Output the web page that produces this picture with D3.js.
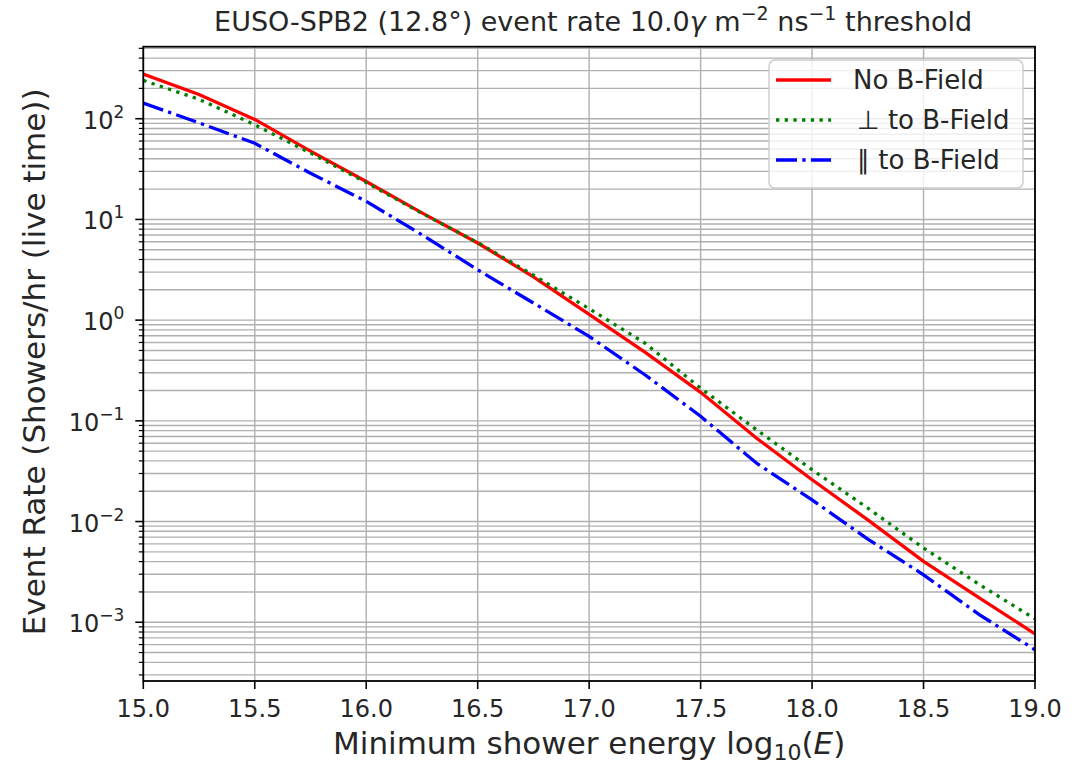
<!DOCTYPE html>
<html>
<head>
<meta charset="utf-8">
<script src="https://cdn.jsdelivr.net/npm/d3@7"></script>
<style>
  body { margin: 0; background: #fff; }
  svg { font-family: "DejaVu Sans", sans-serif; }
</style>
</head>
<body>
<svg id="chart" width="1081" height="767"></svg>
<script>
// data (log10 E, showers/hr)
const energies = [15.0, 15.25, 15.5, 15.75, 16.0, 16.25, 16.5, 16.75, 17.0, 17.25, 17.5, 17.75, 18.0, 18.25, 18.5, 18.75, 19.0]
const rateNoField = [278, 174, 98.5, 47.7, 23.8, 11.6, 5.83, 2.69, 1.14, 0.482, 0.192, 0.0676, 0.026, 0.0104, 0.00402, 0.00175, 0.000767]
const ratePerp = [240, 156, 87.1, 45.6, 23.2, 11.5, 5.89, 2.80, 1.30, 0.592, 0.211, 0.0817, 0.0327, 0.0136, 0.00546, 0.00237, 0.00108]
const rateParallel = [143, 91, 57, 28.8, 15.1, 7.05, 3.16, 1.48, 0.689, 0.287, 0.111, 0.0381, 0.0164, 0.0067, 0.00296, 0.00119, 0.000533]
const seriesNames = ["No B-Field", "\u22a5 to B-Field", "\u2225 to B-Field"]
const xTicks = [15.0, 15.5, 16.0, 16.5, 17.0, 17.5, 18.0, 18.5, 19.0]
const yDecades = [-3, -2, -1, 0, 1, 2]

const margin = {top: 46.7, right: 46, bottom: 86, left: 143.3}
let width = 1081 - margin.left - margin.right,
    height = 767 - margin.top - margin.bottom

let svg = d3.select("#chart")
let chart = svg.append("g")
    .attr("transform", "translate(" + margin.left + "," + margin.top + ")")

let x = d3.scaleLinear().domain([15, 19]).range([0, width])
let y = d3.scaleLog().domain([2.61e-4, 519]).range([height, 0])

// minor ticks 2..9 in every decade that shows
let minorTicks = []
for (let e = -4; e <= 2; e++) {
  for (let m = 2; m <= 9; m++) {
    let v = m * Math.pow(10, e)
    if (v >= y.domain()[0] && v <= y.domain()[1]) minorTicks.push(v)
  }
}
let majorTicks = yDecades.map(function(e){ return Math.pow(10, e) })

// grid
let grid = chart.append("g").attr("stroke", "#b0b0b0").attr("stroke-width", 1.4)
grid.selectAll(".gy").data(majorTicks.concat(minorTicks)).enter().append("line")
    .attr("x1", 0).attr("x2", width)
    .attr("y1", function(d){ return y(d) }).attr("y2", function(d){ return y(d) })
grid.selectAll(".gx").data(xTicks).enter().append("line")
    .attr("y1", 0).attr("y2", height)
    .attr("x1", function(d){ return x(d) }).attr("x2", function(d){ return x(d) })

// curves
chart.append("clipPath").attr("id", "clip").append("rect")
    .attr("width", width).attr("height", height)

let lineGen = d3.line()
    .x(function(d){ return x(d[0]) })
    .y(function(d){ return y(d[1]) })

let series = [
  {name: seriesNames[0], values: rateNoField, color: "#ff0000", dash: null},
  {name: seriesNames[1], values: ratePerp, color: "#008000", dash: "3.3,5.4"},
  {name: seriesNames[2], values: rateParallel, color: "#0000ff", dash: "21,5.3,3.3,5.3"}
]

let curves = chart.append("g").attr("clip-path", "url(#clip)")
series.forEach(function(s){
  curves.append("path")
      .attr("d", lineGen(energies.map(function(e, i){ return [e, s.values[i]] })))
      .attr("fill", "none")
      .attr("stroke", s.color)
      .attr("stroke-width", 3.3)
      .attr("stroke-dasharray", s.dash)
})

// spines
chart.append("rect").attr("width", width).attr("height", height)
    .attr("fill", "none").attr("stroke", "#000").attr("stroke-width", 1.8)

// x axis ticks and labels
let xAxis = chart.append("g").attr("transform", "translate(0," + height + ")")
xAxis.selectAll("line").data(xTicks).enter().append("line")
    .attr("x1", function(d){ return x(d) }).attr("x2", function(d){ return x(d) })
    .attr("y1", 0).attr("y2", 8).attr("stroke", "#000").attr("stroke-width", 1.6)
xAxis.selectAll("text").data(xTicks).enter().append("text")
    .attr("x", function(d){ return x(d) }).attr("y", 36)
    .attr("text-anchor", "middle").attr("font-size", 24).attr("fill", "#262626")
    .text(function(d){ return d.toFixed(1) })

// y axis ticks and labels
let yAxis = chart.append("g")
yAxis.selectAll(".maj").data(majorTicks).enter().append("line")
    .attr("x1", -8).attr("x2", 0)
    .attr("y1", function(d){ return y(d) }).attr("y2", function(d){ return y(d) })
    .attr("stroke", "#000").attr("stroke-width", 1.6)
yAxis.selectAll(".min").data(minorTicks).enter().append("line")
    .attr("x1", -4.5).attr("x2", 0)
    .attr("y1", function(d){ return y(d) }).attr("y2", function(d){ return y(d) })
    .attr("stroke", "#000").attr("stroke-width", 1.2)
let yLabels = yAxis.selectAll("text").data(yDecades).enter().append("text")
    .attr("x", -19).attr("y", function(d){ return y(Math.pow(10, d)) + 10 })
    .attr("text-anchor", "end").attr("font-size", 24).attr("fill", "#262626")
yLabels.append("tspan").text("10")
yLabels.append("tspan").attr("dy", -11).attr("font-size", 17)
    .text(function(d){ return d < 0 ? "\u2212" + (-d) : String(d) })

// title
let title = svg.append("text").attr("x", margin.left + width / 2 + 4).attr("y", 31)
    .attr("text-anchor", "middle").attr("font-size", 27).attr("fill", "#262626")
title.append("tspan").text("EUSO-SPB2 (12.8\u00b0) event rate 10.0")
title.append("tspan").attr("font-style", "italic").text("\u03b3")
title.append("tspan").text(" m")
title.append("tspan").attr("dy", -11).attr("font-size", 19).text("\u22122")
title.append("tspan").attr("dy", 11).text(" ns")
title.append("tspan").attr("dy", -11).attr("font-size", 19).text("\u22121")
title.append("tspan").attr("dy", 11).text(" threshold")

// axis labels
let xLabel = svg.append("text").attr("x", margin.left + width / 2).attr("y", 754)
    .attr("text-anchor", "middle").attr("font-size", 31).attr("fill", "#262626")
xLabel.append("tspan").text("Minimum shower energy log")
xLabel.append("tspan").attr("dy", 6).attr("font-size", 22).text("10")
xLabel.append("tspan").attr("dy", -6).text("(")
xLabel.append("tspan").attr("font-style", "italic").text("E")
xLabel.append("tspan").text(")")

svg.append("text")
    .attr("transform", "translate(45," + (margin.top + height / 2 - 2) + ") rotate(-90)")
    .attr("text-anchor", "middle").attr("font-size", 31).attr("fill", "#262626")
    .text("Event Rate (Showers/hr (live time))")

// legend
let legend = svg.append("g").attr("transform", "translate(769,60)")
legend.append("rect").attr("width", 254).attr("height", 128).attr("rx", 6)
    .attr("fill", "#fff").attr("fill-opacity", 0.8)
    .attr("stroke", "#cccccc").attr("stroke-width", 1.4)
series.forEach(function(s, i){
  let row = legend.append("g").attr("transform", "translate(0," + (20 + i * 40) + ")")
  row.append("line").attr("x1", 7).attr("x2", 62)
      .attr("stroke", s.color).attr("stroke-width", 3.3)
      .attr("stroke-dasharray", s.dash)
  row.append("text").attr("x", i == 0 ? 84 : 88).attr("y", 9)
      .attr("font-size", 26).attr("fill", "#262626")
      .text(s.name)
})
</script>
</body>
</html>
